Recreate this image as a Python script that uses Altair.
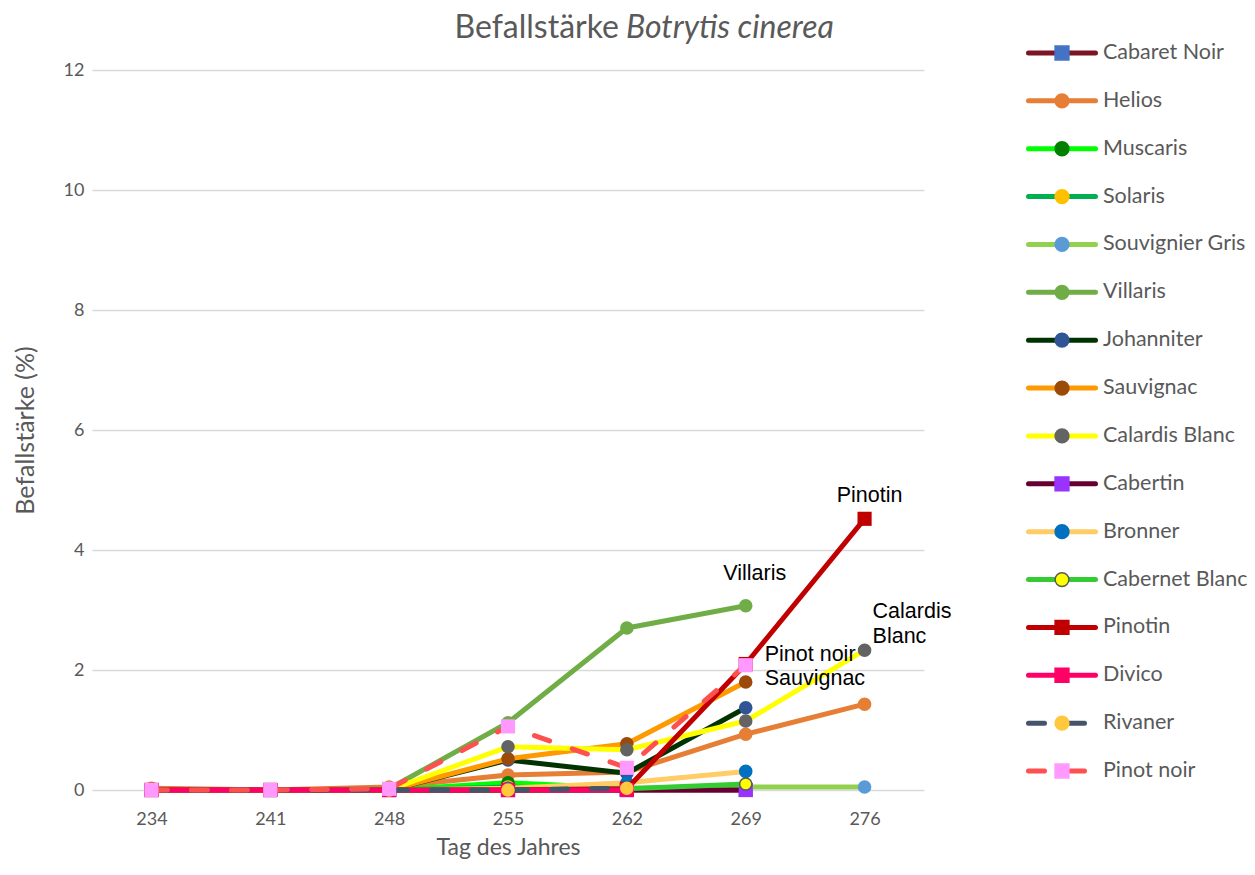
import altair as alt
import pandas as pd

days = [234, 241, 248, 255, 262, 269, 276]

names = ["Cabaret Noir", "Helios", "Muscaris", "Solaris", "Souvignier Gris", "Villaris",
         "Johanniter", "Sauvignac", "Calardis Blanc", "Cabertin", "Bronner", "Cabernet Blanc",
         "Pinotin", "Divico", "Rivaner", "Pinot noir"]

cabaret_noir = [0, 0, 0, 0, 0, 0, None]
helios = [0.03, 0, 0.05, 0.25, 0.30, 0.93, 1.43]
muscaris = [0, 0, 0, 0.12, 0.03, None, None]
solaris = [0, 0, 0, 0.05, 0, None, None]
souvignier_gris = [0, 0, 0, 0, 0.03, 0.05, 0.05]
villaris = [0, 0, 0.02, 1.12, 2.70, 3.07, None]
johanniter = [0, 0, 0, 0.50, 0.28, 1.37, None]
sauvignac = [0, 0, 0, 0.52, 0.77, 1.80, None]
calardis_blanc = [0, 0, 0, 0.72, 0.67, 1.15, 2.33]
cabertin = [0, 0, 0, 0, 0, 0, None]
bronner = [0, 0, 0, 0.03, 0.12, 0.31, None]
cabernet_blanc = [0, 0, 0, 0, 0.02, 0.10, None]
pinotin = [0, 0, 0, 0, 0.02, 2.10, 4.52]
divico = [0, 0, 0, 0, 0, None, None]
rivaner = [0, 0, 0, 0, 0.03, None, None]
pinot_noir = [0, 0, 0.02, 1.06, 0.37, 2.08, None]

series = [cabaret_noir, helios, muscaris, solaris, souvignier_gris, villaris, johanniter,
          sauvignac, calardis_blanc, cabertin, bronner, cabernet_blanc, pinotin, divico,
          rivaner, pinot_noir]

line_colors = ["#7b1425", "#e67e35", "#00ff00", "#00b050", "#92d050", "#70ad47",
               "#003300", "#ff9900", "#ffff00", "#660033", "#ffcc66", "#33cc33",
               "#c00000", "#ff0066", "#44546a", "#ff5050"]
marker_colors = ["#4472c4", "#e67e35", "#008000", "#ffc000", "#5b9bd5", "#70ad47",
                 "#2f5597", "#9c4a0a", "#636363", "#9933ff", "#0070c0", "#ffff00",
                 "#c00000", "#ff0066", "#ffc83d", "#ff99ff"]
marker_strokes = list(marker_colors)
marker_strokes[11] = "#595959"
marker_shapes = ["square", "circle", "circle", "circle", "circle", "circle", "circle",
                 "circle", "circle", "square", "circle", "circle", "square", "square",
                 "circle", "square"]
dashed = [False] * 14 + [True, True]

annot_names = ["Villaris", "Pinotin", "Calardis Blanc", "Pinot noir", "Sauvignac"]
annot_days = [269, 276, 276, 269, 269]
annot_texts = [["Villaris"], ["Pinotin"], ["Calardis", "Blanc"], ["Pinot noir"], ["Sauvignac"]]
annot_dx = [9, 5, 8, 19, 19]
annot_dy = [-32, -23, -38, -10, -3]
annot_align = ["center", "center", "left", "left", "left"]

title_plain = "Befallstärke"
title_italic = "Botrytis cinerea"
y_title = "Befallstärke (%)"
x_title = "Tag des Jahres"

rows = []
for nm, vals in zip(names, series):
    for d, v in zip(days, vals):
        if v is not None:
            rows.append({"name": nm, "day": d, "value": v})
df = pd.DataFrame(rows)

AXIS_FONT = "Lato"
GRAY = "#595959"

x_enc = alt.X("day:Q",
              scale=alt.Scale(domain=[230.5, 279.5], nice=False, zero=False),
              axis=alt.Axis(values=days, format="d", grid=False, ticks=False, domain=False,
                            labelFont=AXIS_FONT, labelFontSize=18, labelColor=GRAY,
                            labelPadding=20, title=x_title, titleFont=AXIS_FONT,
                            titleFontSize=23, titleFontWeight="normal", titleColor=GRAY,
                            titleBaseline="middle", titleY=57))
y_enc = alt.Y("value:Q",
              scale=alt.Scale(domain=[0, 12], nice=False),
              axis=alt.Axis(values=[0, 2, 4, 6, 8, 10, 12], grid=True, gridColor="#d9d9d9",
                            gridWidth=1.3, ticks=False, domain=False,
                            labelFont=AXIS_FONT, labelFontSize=18, labelColor=GRAY,
                            labelPadding=8, title=y_title, titleFont=AXIS_FONT,
                            titleFontSize=25, titleFontWeight="normal", titleColor=GRAY,
                            titleBaseline="middle", titleX=-67))

layers = []
for i, nm in enumerate(names):
    base = alt.Chart(df).transform_filter(alt.datum.name == nm)
    line_kw = dict(color=line_colors[i], strokeWidth=5, strokeCap="round", strokeJoin="round")
    if dashed[i]:
        line_kw["strokeDash"] = [16, 24]
    layers.append(base.mark_line(**line_kw).encode(x=x_enc, y=y_enc))
    size = 200 if marker_shapes[i] == "square" else 185
    pt_kw = dict(shape=marker_shapes[i], size=size, filled=True, color=marker_colors[i],
                 opacity=1)
    if i == 11:
        pt_kw.update(stroke="#595959", strokeWidth=1.5, size=150)
    layers.append(base.mark_point(**pt_kw).encode(x=x_enc, y=y_enc))

for nm, d, txt, dx, dy, al in zip(annot_names, annot_days, annot_texts, annot_dx, annot_dy, annot_align):
    layers.append(
        alt.Chart(df)
        .transform_filter((alt.datum.name == nm) & (alt.datum.day == d))
        .mark_text(text=txt if len(txt) > 1 else txt[0], dx=dx, dy=dy, align=al,
                   baseline="middle", font="Liberation Sans", fontSize=21.5, color="black",
                   lineHeight=25)
        .encode(x=x_enc, y=y_enc)
    )

title_df = pd.DataFrame({"a": [title_plain], "b": [title_italic]})
layers.append(alt.Chart(title_df).mark_text(align="right", baseline="alphabetic", font=AXIS_FONT,
                                             fontSize=32, color=GRAY)
              .encode(text="a:N", x=alt.value(527), y=alt.value(-32)))
layers.append(alt.Chart(title_df).mark_text(align="left", baseline="alphabetic", font=AXIS_FONT,
                                             fontSize=32, fontStyle="italic", color=GRAY)
              .encode(text="b:N", x=alt.value(534), y=alt.value(-32)))

main = alt.layer(*layers)

leg_base = alt.Chart(pd.DataFrame({"name": names})).transform_window(idx="row_number()")
leg_y = alt.Y("idx:Q", axis=None,
              scale=alt.Scale(domain=[1, len(names)], range=[-17, 701], nice=False, zero=False))
dash_range = [[16, 24] if dd else [1, 0] for dd in dashed]
leg_lines = leg_base.mark_rule(strokeWidth=5, strokeCap="round").encode(
    x=alt.value(936.5), x2=alt.value(1003.5), y=leg_y,
    color=alt.Color("name:N", scale=alt.Scale(domain=names, range=line_colors), legend=None),
    strokeDash=alt.StrokeDash("name:N", scale=alt.Scale(domain=names, range=dash_range), legend=None),
)
leg_pts = leg_base.mark_point(filled=True, size=190, opacity=1, strokeWidth=1.5).encode(
    x=alt.value(970), y=leg_y,
    fill=alt.Fill("name:N", scale=alt.Scale(domain=names, range=marker_colors), legend=None),
    stroke=alt.Stroke("name:N", scale=alt.Scale(domain=names, range=marker_strokes), legend=None),
    shape=alt.Shape("name:N", scale=alt.Scale(domain=names, range=marker_shapes), legend=None),
)
leg_txt = leg_base.mark_text(align="left", baseline="middle", font=AXIS_FONT,
                             fontSize=21.5, color=GRAY).encode(
    x=alt.value(1011), y=leg_y, text="name:N")
legend = alt.layer(leg_lines, leg_pts, leg_txt)

chart = (
    alt.layer(main, legend)
    .resolve_scale(y="independent")
    .properties(width=832, height=720,
                padding={"left": 84, "top": 62, "right": 323, "bottom": 70},
                autosize=alt.AutoSizeParams(type="none"),
                background="white")
    .configure_view(stroke=None)
)

chart.save("out.html", embed_options={"renderer": "svg", "actions": False})
